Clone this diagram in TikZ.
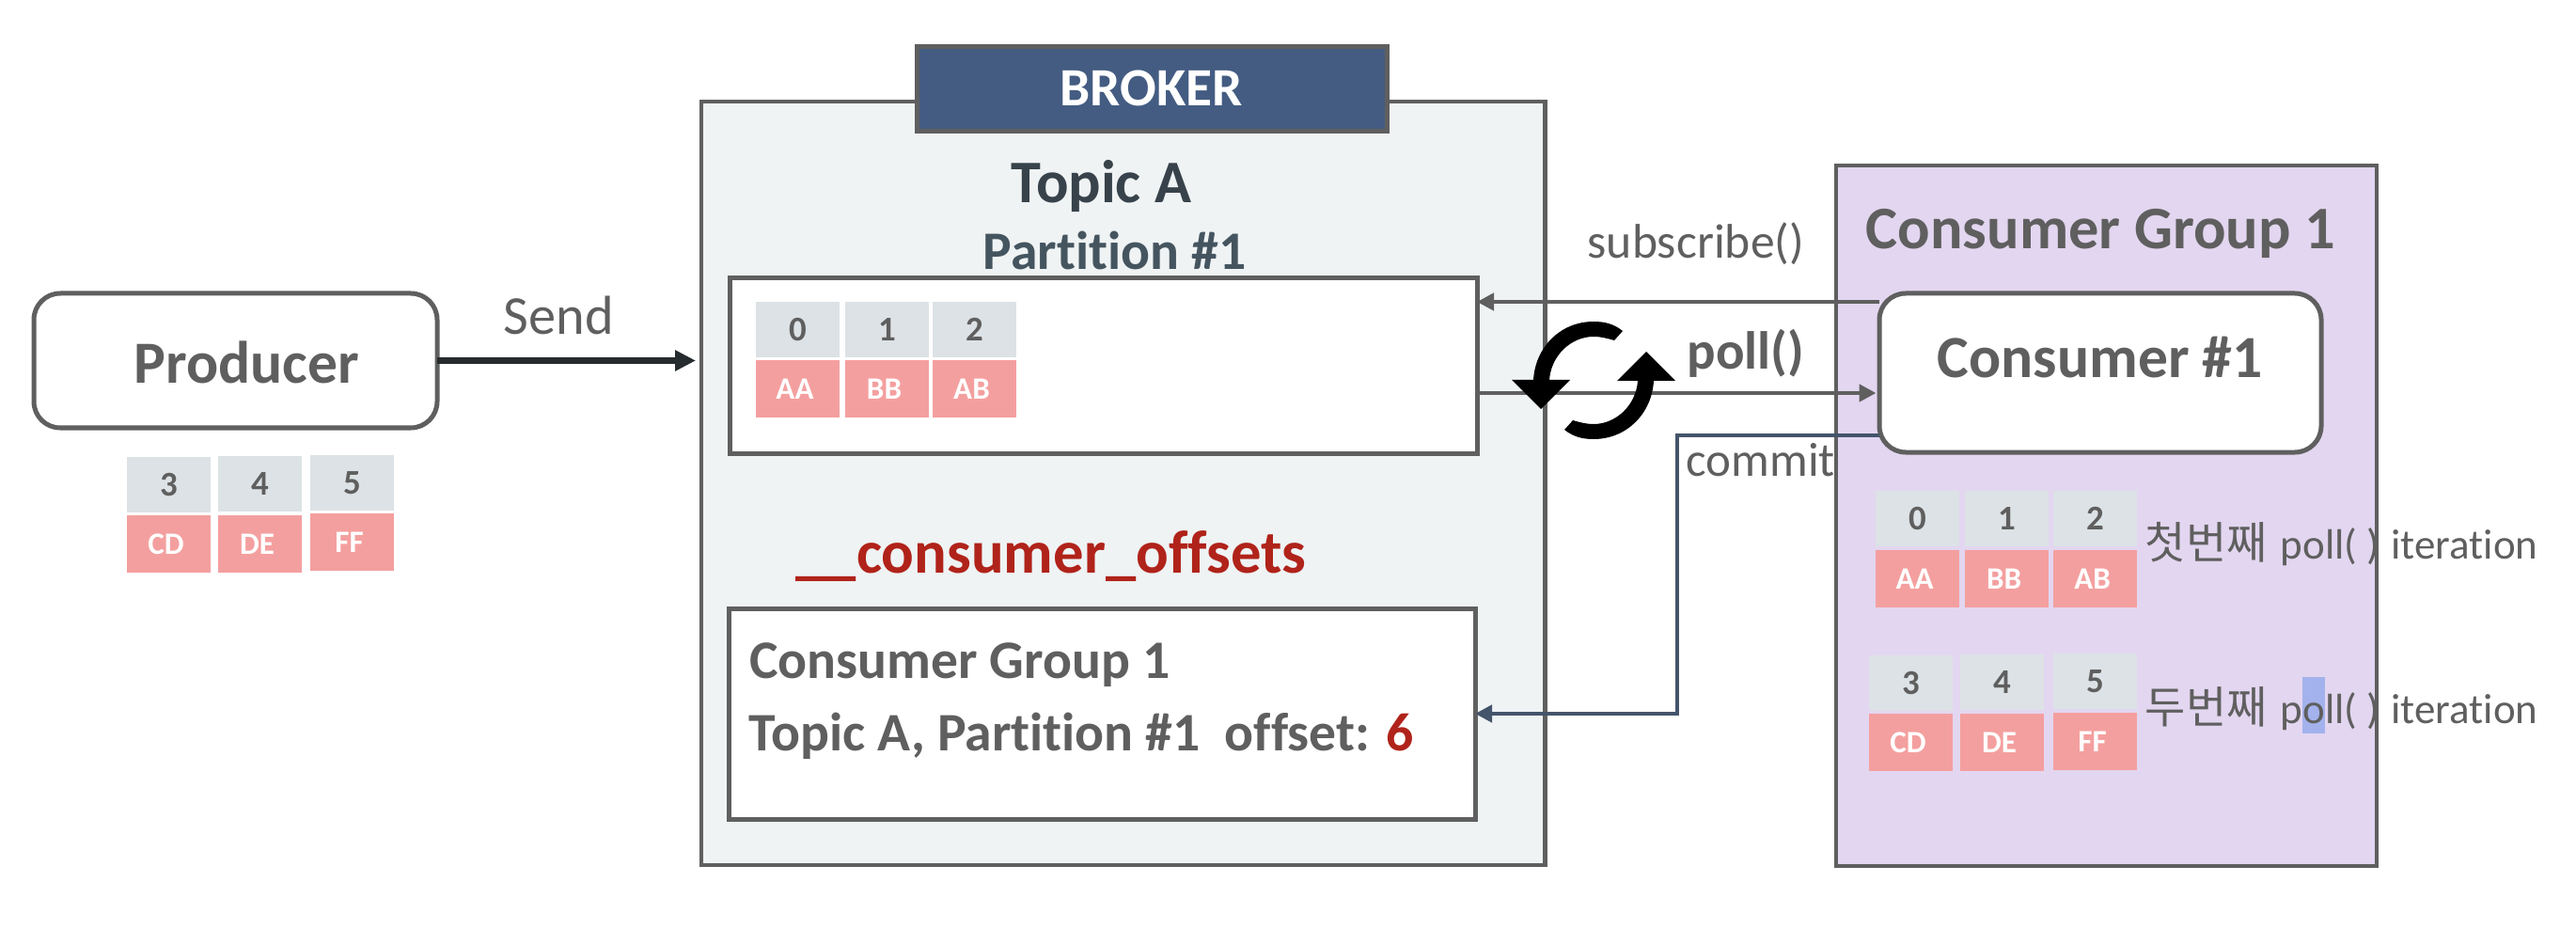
\documentclass[tikz,border=0pt]{standalone}
\usepackage{fontspec}
\setmainfont{Carlito}[Ligatures=NoCommon]
\newfontfamily\cjk{Noto Sans CJK KR}
\usetikzlibrary{positioning, arrows.meta, calc}
\definecolor{linegray}{HTML}{5F5F5F}
\definecolor{brokerfill}{HTML}{EFF3F4}
\definecolor{headerblue}{HTML}{445C82}
\definecolor{groupfill}{HTML}{E3D6F0}
\definecolor{cellgray}{HTML}{DCE2E5}
\definecolor{cellpink}{HTML}{F49F9F}
\definecolor{slate}{HTML}{44546A}
\definecolor{topicdark}{HTML}{37424A}
\definecolor{partslate}{HTML}{455560}
\definecolor{offsetred}{HTML}{B0231A}
\definecolor{hilite}{HTML}{A3B2EC}
\definecolor{senddark}{HTML}{262B2E}
\newcommand{\fs}[1]{\fontsize{#1}{#1}\selectfont}
\tikzset{
    boxnode/.style={draw=linegray, anchor=north west, inner sep=0pt, outer sep=0pt},
    cellnum/.style={fill=cellgray, anchor=north west, inner sep=0pt, outer sep=0pt, minimum width=0.89cm, minimum height=0.59cm, text=linegray, font=\bfseries\fs{10.5pt}},
    celldata/.style={fill=cellpink, anchor=north west, inner sep=0pt, outer sep=0pt, minimum width=0.89cm, minimum height=0.61cm, text=white, font=\bfseries\fs{9.4pt}, execute at end node=\hspace{0.06cm}},
    label/.style={anchor=base west, inner sep=0pt, text=linegray},
    flowarrow/.style={draw=linegray, line width=0.045cm, -{Triangle[length=0.18cm,width=0.18cm]}},
    commitarrow/.style={draw=slate, line width=0.045cm, -{Triangle[length=0.18cm,width=0.18cm]}},
    sendarrow/.style={draw=senddark, line width=0.07cm, -{Triangle[length=0.22cm,width=0.21cm]}, shorten >=1.7pt},
}
\begin{document}
\begin{tikzpicture}
            \useasboundingbox (0,0) rectangle (27.4,10.04);
            \node[boxnode, fill=brokerfill, line width=0.045cm, minimum width=8.975cm, minimum height=8.12cm] (broker) at (7.46,8.96) {};
            \node[boxnode, fill=headerblue, line width=0.05cm, minimum width=5.00cm, minimum height=0.90cm] (header) at (9.75,9.54) {};
            \node[boxnode, fill=white, line width=0.05cm, minimum width=7.95cm, minimum height=1.86cm] (partition) at (7.76,7.08) {};
            \node[boxnode, fill=white, line width=0.05cm, minimum width=7.94cm, minimum height=2.24cm] (offsets) at (7.75,3.57) {};
            \node[boxnode, fill=groupfill, line width=0.045cm, minimum width=5.75cm, minimum height=7.45cm] (group) at (19.53,8.28) {};
            \node[boxnode, fill=white, line width=0.05cm, rounded corners=0.28cm, minimum width=4.29cm, minimum height=1.43cm] (producer) at (0.36,6.92) {};
            \node[boxnode, fill=white, line width=0.05cm, rounded corners=0.28cm, minimum width=4.70cm, minimum height=1.69cm] (consumer) at (19.99,6.92) {};
            \node[fill=hilite, inner sep=0pt, anchor=north west, minimum width=0.24cm, minimum height=0.60cm] (highlight) at (24.48,2.85) {};
            \coordinate (commitcorner) at (17.84,5.41);
            \coordinate (commitdrop) at (17.84,2.45);
            \draw[sendarrow] (producer.east) -- (broker.west |- producer.east);
            \draw[flowarrow] (consumer.west |- 0,6.83) -- (partition.east |- 0,6.83);
            \draw[flowarrow, shorten >=1pt] (partition.east |- 0,5.86) -- (consumer.west |- 0,5.86);
            \draw[commitarrow] (consumer.west |- commitcorner) -- (commitcorner) -- (commitdrop) -- (offsets.east |- commitdrop);
            \fill[black] (17.26,6.52) .. controls (17.16,6.60) and (17.06,6.62) .. (16.95,6.62) .. controls (16.60,6.62) and (16.33,6.35) .. (16.31,6.00) -- (16.08,6.00) -- (16.39,5.69) -- (16.70,6.00) -- (16.48,6.00) .. controls (16.50,6.27) and (16.72,6.46) .. (16.95,6.46) .. controls (17.03,6.46) and (17.10,6.44) .. (17.17,6.42) -- cycle;
            \fill[black] (16.64,5.47) .. controls (16.74,5.39) and (16.84,5.37) .. (16.95,5.37) .. controls (17.30,5.37) and (17.57,5.64) .. (17.59,5.99) -- (17.82,5.99) -- (17.51,6.30) -- (17.20,5.99) -- (17.42,5.99) .. controls (17.40,5.72) and (17.18,5.53) .. (16.95,5.53) .. controls (16.87,5.53) and (16.80,5.55) .. (16.73,5.57) -- cycle;
            \node[cellnum] (pnum3) at (1.35,5.18) {3};
            \node[cellnum] (pnum4) at (2.32,5.19) {4};
            \node[cellnum] (pnum5) at (3.30,5.20) {5};
            \node[celldata] (pdata3) at (1.35,4.56) {CD};
            \node[celldata] (pdata4) at (2.32,4.56) {DE};
            \node[celldata] (pdata5) at (3.30,4.58) {FF};
            \node[cellnum] (tnum0) at (8.04,6.83) {0};
            \node[cellnum] (tnum1) at (8.99,6.83) {1};
            \node[cellnum] (tnum2) at (9.92,6.83) {2};
            \node[celldata] (tdata0) at (8.04,6.21) {AA};
            \node[celldata] (tdata1) at (8.99,6.21) {BB};
            \node[celldata] (tdata2) at (9.92,6.21) {AB};
            \node[cellnum] (cnum0) at (19.95,4.82) {0};
            \node[cellnum] (cnum1) at (20.90,4.82) {1};
            \node[cellnum] (cnum2) at (21.84,4.82) {2};
            \node[celldata] (cdata0) at (19.95,4.19) {AA};
            \node[celldata] (cdata1) at (20.90,4.19) {BB};
            \node[celldata] (cdata2) at (21.84,4.19) {AB};
            \node[cellnum] (cnum3) at (19.88,3.07) {3};
            \node[cellnum] (cnum4) at (20.85,3.08) {4};
            \node[cellnum] (cnum5) at (21.84,3.09) {5};
            \node[celldata] (cdata3) at (19.88,2.45) {CD};
            \node[celldata] (cdata4) at (20.85,2.45) {DE};
            \node[celldata] (cdata5) at (21.84,2.46) {FF};
            \node[label, font=\fs{16.6pt}] (send) at (5.35,6.48) {Send};
            \node[label, font=\bfseries\fs{18.1pt}] (producertext) at (1.42,5.97) {Producer};
            \node[label, text=white, font=\bfseries\fs{16.3pt}] (brokertext) at (11.27,8.91) {BROKER};
            \node[label, text=topicdark, font=\bfseries\fs{18.3pt}] (topic) at (10.75,7.88) {Topic A};
            \node[label, text=partslate, font=\bfseries\fs{16.4pt}] (parttext) at (10.45,7.17) {Partition \#1};
            \node[label, font=\bfseries\fs{18.3pt}] (grouptext) at (19.84,7.39) {Consumer Group 1};
            \node[label, font=\fs{14.7pt}] (subscribe) at (16.88,7.29) {subscribe()};
            \node[label, font=\bfseries\fs{16.2pt}] (poll) at (17.94,6.12) {poll()};
            \node[label, font=\fs{14.5pt}] (commit) at (17.93,4.98) {commit};
            \node[label, font=\bfseries\fs{18.1pt}] (consumertext) at (20.60,6.02) {Consumer \#1};
            \node[label, text=offsetred, font=\bfseries\fs{18.4pt}] (offsetname) at (8.46,3.95) {\_\_consumer\_offsets};
            \node[label, font=\bfseries\fs{16.4pt}] (offsetgroup) at (7.965,2.83) {Consumer Group 1};
            \node[label, font=\bfseries\fs{16.4pt}] (offsetline) at (7.96,2.06) {Topic A, Partition \#1\ \ offset: \textcolor{offsetred}{6}};
            \node[label, font=\fs{12.8pt}] (first) at (22.81,4.10) {{\cjk\fs{13.4pt}첫번째}\hspace{0.04cm} poll( )\hspace{0.02cm} iteration};
            \node[label, font=\fs{12.8pt}] (second) at (22.81,2.35) {{\cjk\fs{13.4pt}두번째}\hspace{0.04cm} poll( )\hspace{0.02cm} iteration};
        \end{tikzpicture}
\end{document}
